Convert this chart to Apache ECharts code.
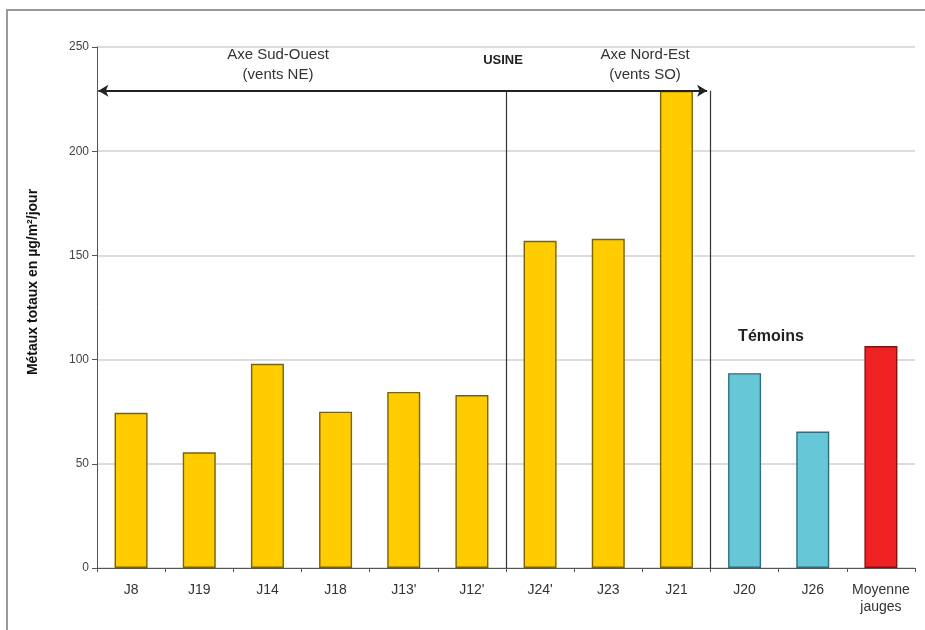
<!DOCTYPE html>
<html>
<head>
<meta charset="utf-8">
<script src="https://cdn.jsdelivr.net/npm/echarts@6/dist/echarts.min.js"></script>
<style>html,body{margin:0;padding:0;background:#fff;}#c{width:925px;height:630px;}</style>
</head>
<body>
<div id="c"></div>
<script>
var categories = ['J8', 'J19', 'J14', 'J18', "J13'", "J12'", "J24'", 'J23', 'J21', 'J20', 'J26', 'Moyenne\njauges'];
var values = [74.5, 55.5, 98, 75, 84.5, 83, 157, 158, 229, 93.5, 65.5, 106.5];
var groups = ['axe', 'axe', 'axe', 'axe', 'axe', 'axe', 'axe', 'axe', 'axe', 'temoin', 'temoin', 'moyenne'];
var yTicks = [0, 50, 100, 150, 200, 250];
var arrowLevel = 229;
var sectionBounds = [6, 9];

var fills = { axe: '#FFCC00', temoin: '#66C7D6', moyenne: '#EE2222' };
var borders = { axe: '#7A6300', temoin: '#2F6F7C', moyenne: '#861010' };

var barData = values.map(function (v, i) {
  return { value: v, itemStyle: { color: fills[groups[i]], borderColor: borders[groups[i]], borderWidth: 1.4 } };
});

var chart = echarts.init(document.getElementById('c'), null, { renderer: 'canvas' });
var font = 'Liberation Sans, Arial, sans-serif';
chart.setOption({
  animation: false,
  backgroundColor: '#ffffff',
  grid: { left: 97, right: 10, top: 47, bottom: 62 },
  xAxis: [{
    type: 'category',
    data: categories,
    axisLine: { lineStyle: { color: '#555', width: 1 } },
    axisTick: { show: true, length: 4, interval: 0, lineStyle: { color: '#555' } },
    axisLabel: { interval: 0, color: '#333', fontSize: 14, fontFamily: font, margin: 14, lineHeight: 17 }
  }, {
    type: 'value', min: 0, max: 12, show: false
  }],
  yAxis: {
    type: 'value', min: yTicks[0], max: yTicks[yTicks.length - 1], interval: 50,
    axisLine: { show: true, lineStyle: { color: '#555', width: 1 } },
    axisTick: { show: true, length: 5, lineStyle: { color: '#555' } },
    axisLabel: { color: '#444', fontSize: 12, fontFamily: font, margin: 8 },
    splitLine: { lineStyle: { color: '#d0d0d0', width: 1.5 } }
  },
  series: [{
    type: 'bar',
    data: barData,
    barWidth: 33,
    xAxisIndex: 0
  }, {
    type: 'line',
    xAxisIndex: 1,
    data: [],
    silent: true,
    markLine: {
      silent: true,
      symbol: 'none',
      label: { show: false },
      lineStyle: { color: '#333', type: 'solid', width: 1.2 },
      data: [
        [{ coord: [sectionBounds[0], 0] }, { coord: [sectionBounds[0], arrowLevel] }],
        [{ coord: [sectionBounds[1], 0] }, { coord: [sectionBounds[1], arrowLevel] }]
      ]
    }
  }, {
    type: 'line',
    xAxisIndex: 1,
    data: [],
    silent: true,
    markLine: {
      silent: true,
      symbol: ['arrow', 'arrow'],
      symbolSize: [9, 10],
      label: { show: false },
      lineStyle: { color: '#222', type: 'solid', width: 2 },
      data: [
        [{ coord: [0.02, arrowLevel] }, { coord: [sectionBounds[1] - 0.05, arrowLevel] }]
      ]
    }
  }],
  graphic: [
    { type: 'rect', shape: { x: 7, y: 10, width: 940, height: 640 }, style: { fill: 'none', stroke: '#999', lineWidth: 2 }, silent: true },
    { type: 'text', x: 33, y: 282, rotation: Math.PI / 2, style: { text: 'Métaux totaux en µg/m²/jour', align: 'center', verticalAlign: 'middle', fill: '#111', font: 'bold 14px ' + font } },
    { type: 'text', x: 278, y: 45, style: { text: 'Axe Sud-Ouest\n(vents NE)', align: 'center', fill: '#333', font: '15px ' + font, lineHeight: 20 } },
    { type: 'text', x: 503, y: 54, style: { text: 'USINE', align: 'center', fill: '#222', font: 'bold 13px ' + font } },
    { type: 'text', x: 645, y: 45, style: { text: 'Axe Nord-Est\n(vents SO)', align: 'center', fill: '#333', font: '15px ' + font, lineHeight: 20 } },
    { type: 'text', x: 771, y: 329, style: { text: 'Témoins', align: 'center', fill: '#222', font: 'bold 16px ' + font } }
  ]
});
</script>
</body>
</html>
